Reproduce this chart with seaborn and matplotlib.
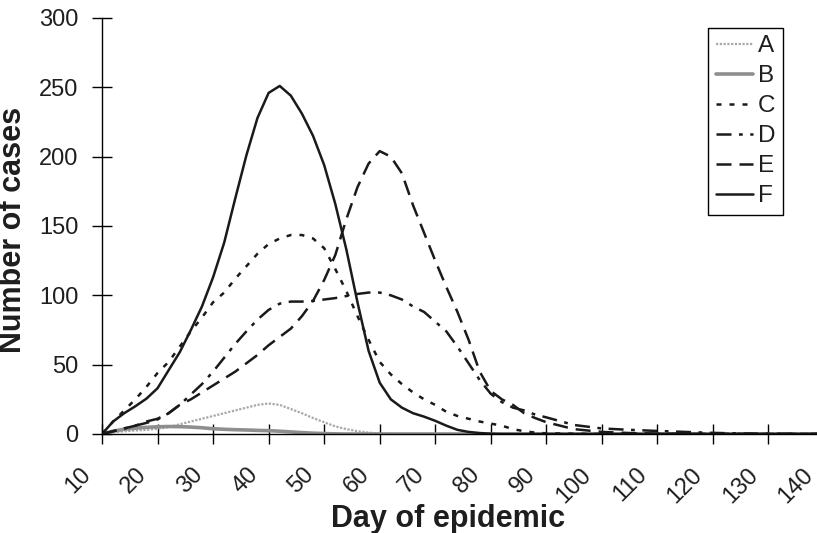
import matplotlib
matplotlib.use("Agg")
import matplotlib.pyplot as plt
import matplotlib.transforms as mtransforms
import pandas as pd
import seaborn as sns

days = [10, 12, 14, 16, 18, 20, 22, 24, 26, 28, 30, 32, 34, 36, 38, 40, 42, 44, 46, 48,
        50, 52, 54, 56, 58, 60, 62, 64, 66, 68, 70, 72, 74, 76, 78, 80, 82, 84, 86, 88,
        90, 95, 100, 105, 110, 115, 120, 125, 130, 135, 140]

cases_a = [0, 1.2, 2, 2.5, 3, 3.7, 5, 7, 9, 11, 13, 15, 17, 19, 21, 22, 21, 18, 15, 11.5,
           8.5, 5.5, 3.5, 2, 1, 0.4, 0.1, 0, 0, 0, 0, 0, 0, 0, 0, 0, 0, 0, 0, 0,
           0, 0, 0, 0, 0, 0, 0, 0, 0, 0, 0]
cases_b = [0, 2, 3.5, 4.2, 4.8, 5.2, 5.4, 5.3, 5, 4.5, 3.8, 3.4, 3.1, 2.9, 2.6, 2.4, 2, 1.5, 1, 0.6,
           0.3, 0.1, 0, 0, 0, 0, 0, 0, 0, 0, 0, 0, 0, 0, 0, 0, 0, 0, 0, 0,
           0, 0, 0, 0, 0, 0, 0, 0, 0, 0, 0]
cases_c = [0, 9, 17, 25, 34, 44, 52, 63, 74, 84, 95, 102, 112, 121, 130, 137, 141, 143.5, 143.5, 141,
           134, 119, 103, 85, 68, 52, 43, 36, 30, 25, 21, 16, 13, 11, 9, 7.5, 6, 3.5, 2, 1,
           0.5, 0.2, 0, 0, 0, 0, 0, 0, 0, 0, 0]
cases_d = [0, 2, 4, 6, 8, 10.5, 15, 21, 28.5, 36, 45, 55, 65, 74, 82.5, 89.5, 94, 95.5, 95.5, 96,
           97, 98, 99.5, 101, 102, 102, 100, 97, 92, 88, 81, 74, 63, 51, 39, 29, 23, 19, 17, 14,
           12, 6.5, 4, 3, 2.2, 1.5, 0.8, 0.4, 0.2, 0.1, 0]
cases_e = [0, 2, 4, 6, 9, 11, 15, 21, 25, 30, 35, 40, 45, 51, 57, 64, 70, 76, 85, 96,
           111, 129, 155, 178, 195, 204, 200, 188, 165, 145, 125, 106, 88, 68, 45, 31, 25, 21, 15, 11.5,
           8.5, 3.5, 1.5, 0.7, 0.3, 0.1, 0, 0, 0, 0, 0]
cases_f = [0, 9, 15, 20, 25.5, 33, 46, 59, 75, 92, 113, 138, 170, 201, 228, 246, 251, 244, 231, 215,
           194, 166, 133, 95, 60, 37, 25, 19, 15, 12.5, 9.5, 6, 3, 1.5, 0.7, 0.2, 0, 0, 0, 0,
           0, 0, 0, 0, 0, 0, 0, 0, 0, 0, 0]

series = {"A": cases_a, "B": cases_b, "C": cases_c, "D": cases_d, "E": cases_e, "F": cases_f}
x_ticks = list(range(10, 141, 10))
y_ticks = [0, 50, 100, 150, 200, 250, 300]

sns.set_theme(style="ticks")
plt.rcParams["font.family"] = ["Liberation Sans", "DejaVu Sans"]

styles = {
    "A": dict(color="#a8a8a8", lw=1.6, linestyle=(0, (1, 0.7))),
    "B": dict(color="#8e8e8e", lw=2.6, linestyle="-"),
    "C": dict(color="#1a1a1a", lw=1.8, linestyle=(0, (2, 3.2))),
    "D": dict(color="#1a1a1a", lw=1.8, linestyle=(0, (6, 3, 1.5, 3))),
    "E": dict(color="#1a1a1a", lw=1.8, linestyle=(0, (6, 3.2))),
    "F": dict(color="#1a1a1a", lw=1.8, linestyle="-"),
}

fig = plt.figure(figsize=(8.17, 5.33), dpi=100)
ax = fig.add_axes([102 / 817, 99 / 533, 722 / 817, 416 / 533])

for name, vals in series.items():
    df = pd.DataFrame({"day": days, "cases": vals})
    sns.lineplot(data=df, x="day", y="cases", ax=ax, label=name, **styles[name])

ax.set_xlim(10, 140)
ax.set_ylim(0, 300)
ax.set_xticks(x_ticks)
ax.set_yticks(y_ticks)
ax.spines["top"].set_visible(False)
ax.spines["right"].set_visible(False)
for s in ["left", "bottom"]:
    ax.spines[s].set_color("black")
    ax.spines[s].set_linewidth(1)

ax.tick_params(axis="both", direction="inout", length=14, width=1, color="black",
               labelsize=17, labelcolor="#1e1e1e")
ax.tick_params(axis="y", pad=10)
ax.tick_params(axis="x", pad=20)

shift = mtransforms.ScaledTranslation(-14 / 100, 0, fig.dpi_scale_trans)
for lab in ax.get_xticklabels():
    lab.set_rotation(45)
    lab.set_ha("right")
    lab.set_va("center")
    lab.set_rotation_mode("anchor")
    lab.set_transform(lab.get_transform() + shift)

ax.set_xlabel("Day of epidemic", fontsize=22, fontweight="bold", color="#1e1e1e")
ax.set_ylabel("Number of cases", fontsize=22, fontweight="bold", color="#1e1e1e")
ax.xaxis.set_label_coords(0.479, -0.168)
ax.yaxis.set_label_coords(-0.102, 0.49)

leg = ax.legend(loc="upper right", bbox_to_anchor=(783 / 817, 1 - 28 / 533),
                bbox_transform=fig.transFigure, borderaxespad=0, fontsize=17.5,
                handlelength=1.55, handletextpad=0.2, labelspacing=0.33, borderpad=0.3,
                fancybox=False, framealpha=1, edgecolor="black")
leg.get_frame().set_linewidth(1)
for t in leg.get_texts():
    t.set_color("#1e1e1e")

fig.savefig("out.png", dpi=100)
